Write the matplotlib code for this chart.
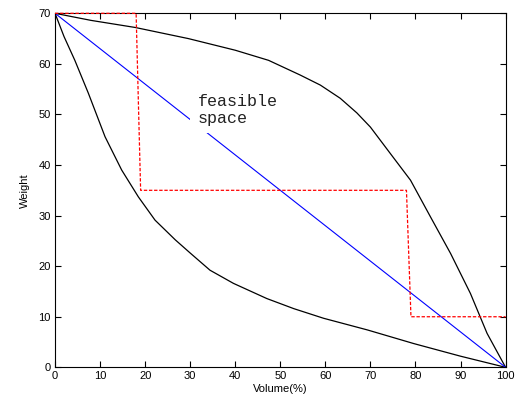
import numpy as np
import matplotlib
matplotlib.use('Agg')
import matplotlib.pyplot as plt

# upper bound curve
upper_x = [0, 8, 17.8, 29.6, 40, 47.4, 54.4, 58.9, 63.3, 67, 70, 74.4, 78.9, 83.3, 87.8, 92.2, 95.9, 100]
upper_y = [70, 68.6, 67.2, 65.0, 62.7, 60.7, 57.8, 55.8, 53.2, 50.3, 47.5, 42.3, 37.0, 29.8, 22.5, 14.6, 6.7, 0]

# lower bound curve
lower_x = [0, 2, 4.4, 7.4, 11.1, 14.8, 18.5, 22.2, 26.7, 30, 34.4, 39.6, 47.0, 53, 59.6, 69.3, 79.6, 90, 100]
lower_y = [70, 65.4, 60.7, 54.2, 45.6, 39.0, 33.7, 29.1, 25.2, 22.6, 19.2, 16.6, 13.6, 11.6, 9.7, 7.4, 4.7, 2.2, 0]

# straight line
line_x = [0, 100]
line_y = [70, 0]

# stepped path
step_x = [0, 18, 19, 78, 79, 100]
step_y = [70, 70, 35, 35, 10, 10]

plt.rcParams['font.family'] = ['Liberation Sans', 'DejaVu Sans']

fig = plt.figure(figsize=(5.21, 4.07), dpi=100)
ax = fig.add_axes([0.1056, 0.0975, 0.8648, 0.8698])

ax.plot(upper_x, upper_y, color='black', lw=0.9)
ax.plot(lower_x, lower_y, color='black', lw=0.9)
ax.plot(line_x, line_y, color='blue', lw=0.8)
ax.plot(step_x, step_y, color='red', lw=0.9, linestyle=(0, (2.7, 1.4)),
        zorder=3, clip_on=False)

ax.text(31.6, 54.0, 'feasible\nspace', family=['Liberation Mono', 'DejaVu Sans Mono'],
        fontsize=12, color='#222222', va='top', ha='left', linespacing=1.15,
        bbox=dict(facecolor='white', edgecolor='none', pad=5))

ax.set_xlim(0, 100)
ax.set_ylim(0, 70)
ax.set_xticks(np.arange(0, 101, 10))
ax.set_yticks(np.arange(0, 71, 10))
ax.tick_params(direction='in', top=True, right=True, length=4, width=0.8,
               labelsize=8, pad=3)
for s in ax.spines.values():
    s.set_linewidth(0.8)

ax.set_xlabel('Volume(%)', fontsize=8, labelpad=2)
ax.set_ylabel('Weight', fontsize=8, labelpad=6)

fig.savefig('out.png', dpi=100)
